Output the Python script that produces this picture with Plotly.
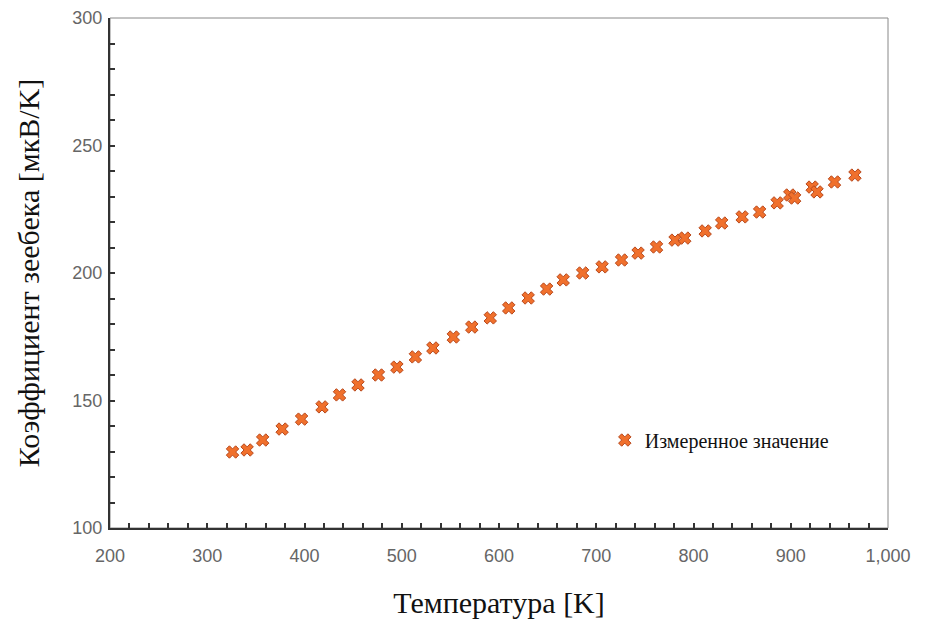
import plotly.graph_objects as go

temperature_k = [326, 341, 357, 377, 397, 418, 436, 455, 476, 495, 514, 532, 553, 572,
                 591, 610, 630, 649, 666, 686, 706, 726, 743, 762, 781, 791, 812, 829,
                 850, 868, 886, 899, 904, 922, 927, 945, 966]
seebeck_uv_k = [129.8, 130.6, 134.5, 138.8, 142.7, 147.5, 152.2, 156.1, 160.0, 163.1,
                167.1, 170.6, 174.9, 178.8, 182.4, 186.3, 190.2, 193.7, 197.3, 200.0,
                202.4, 205.1, 207.8, 210.2, 212.9, 213.7, 216.5, 219.6, 222.0, 223.9,
                227.5, 230.6, 229.4, 233.7, 231.8, 235.7, 238.4]

series_name = "Измеренное значение"
x_title = "Температура [K]"
y_title = "Коэффициент зеебека [мкВ/K]"

fig = go.Figure()
fig.add_trace(go.Scatter(
    x=temperature_k, y=seebeck_uv_k, mode="markers", name=series_name,
    marker=dict(symbol="x", size=11, color="#f0702c",
                line=dict(color="#b8481c", width=1)),
))

tickfont = dict(family="Liberation Sans, Arial, sans-serif", size=18, color="#666666")
titlefont = dict(family="Liberation Serif, Times New Roman, serif", size=30, color="#111111")

fig.update_xaxes(
    range=[200, 1000], dtick=100, tick0=200, tickformat=",d", automargin=False,
    ticks="inside", ticklen=5, tickwidth=2, tickcolor="#333333", ticklabelstandoff=10,
    minor=dict(dtick=20, ticks="inside", ticklen=5, tickwidth=2, tickcolor="#333333"),
    showline=True, linecolor="#333333", linewidth=2, showgrid=False, zeroline=False,
    tickfont=tickfont, title=dict(text=x_title, font=titlefont, standoff=27),
)
fig.update_yaxes(
    range=[100, 300], dtick=50, tick0=100, automargin=False,
    ticks="inside", ticklen=5, tickwidth=2, tickcolor="#333333", ticklabelstandoff=2,
    minor=dict(dtick=10, ticks="inside", ticklen=5, tickwidth=2, tickcolor="#333333"),
    showline=True, linecolor="#333333", linewidth=2, showgrid=False, zeroline=False,
    tickfont=tickfont, title=dict(text=y_title, font=titlefont, standoff=24),
)

fig.add_shape(type="rect", xref="paper", yref="paper", x0=0, y0=0, x1=1, y1=1,
              line=dict(color="#888888", width=1), layer="below")

fig.update_layout(
    width=926, height=623,
    margin=dict(l=102, r=46, t=10, b=103),
    paper_bgcolor="white", plot_bgcolor="white",
    showlegend=True,
    legend=dict(x=0.636, y=0.1725, xanchor="left", yanchor="middle",
                bgcolor="rgba(0,0,0,0)",
                font=dict(family="Liberation Serif, Times New Roman, serif", size=20, color="#111111")),
)

fig.write_html("out.html")
